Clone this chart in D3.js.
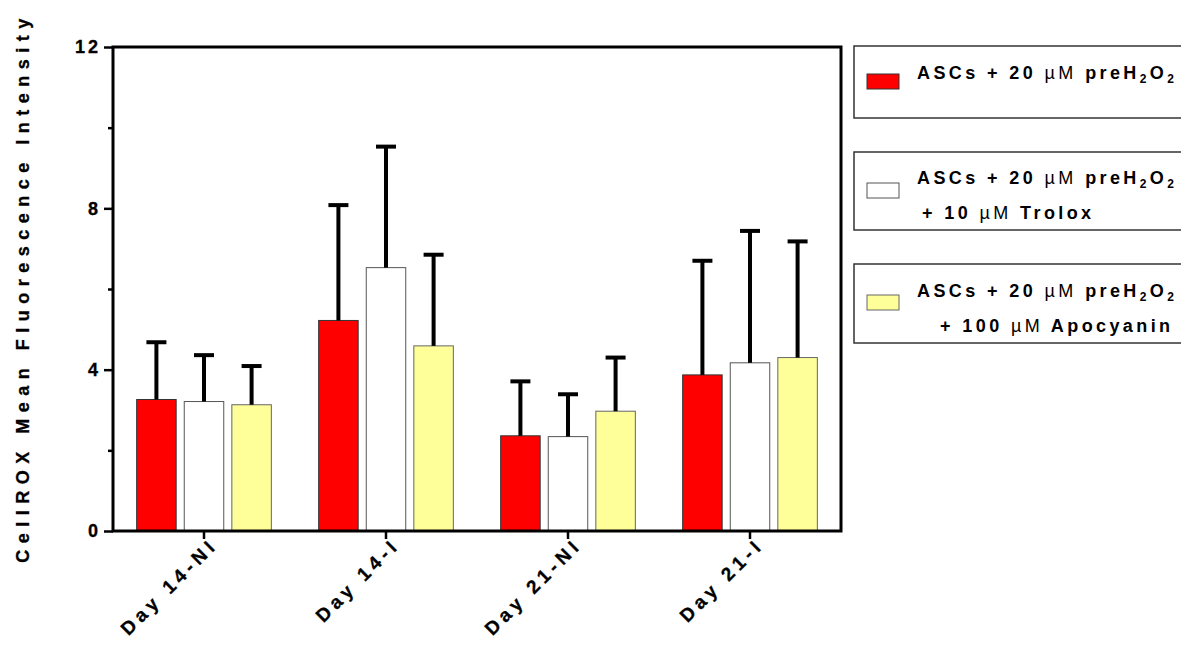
<!DOCTYPE html>
<html>
<head>
<meta charset="utf-8">
<script src="https://cdn.jsdelivr.net/npm/d3@7"></script>
<style>
  html, body { margin: 0; padding: 0; background: #fff; }
  svg { display: block; font-family: Arial, "Liberation Sans", sans-serif; }
</style>
</head>
<body>
<svg id="chart" width="1181" height="653"></svg>
<script>
const categories = ["Day 14-NI", "Day 14-I", "Day 21-NI", "Day 21-I"];
const seriesNames = ["pre", "trolox", "apocyanin"];
const meanPre = [3.26, 5.22, 2.36, 3.87];
const meanTrolox = [3.21, 6.53, 2.34, 4.17];
const meanApocyanin = [3.13, 4.59, 2.97, 4.30];
const sdPre = [1.42, 2.86, 1.35, 2.83];
const sdTrolox = [1.15, 3.00, 1.05, 3.27];
const sdApocyanin = [0.96, 2.26, 1.33, 2.88];
const yTicks = [0, 2, 4, 6, 8, 10, 12];
const yLabelTicks = [0, 4, 8, 12];
const yTitle = "CellROX Mean Fluorescence Intensity";

const colors = { pre: "#ff0000", trolox: "#ffffff", apocyanin: "#ffff99" };
const strokes = { pre: "#333", trolox: "#555", apocyanin: "#666" };

const means = { pre: meanPre, trolox: meanTrolox, apocyanin: meanApocyanin };
const sds = { pre: sdPre, trolox: sdTrolox, apocyanin: sdApocyanin };

const svg = d3.select("#chart");
const L = 113, R = 841, T = 47, B = 531;
const FONT = "Arial, 'Liberation Sans', sans-serif";

const y = d3.scaleLinear().domain([0, 12]).range([B, T]);
const x0 = d3.scaleBand().domain(categories).range([L, R]).paddingInner(0.26).paddingOuter(0.13);
const x1 = d3.scaleBand().domain(seriesNames).range([0, x0.bandwidth()]).paddingInner(0.17).paddingOuter(0);

const data = [];
categories.forEach((c, i) => {
  seriesNames.forEach(s => data.push({ cat: c, s, v: means[s][i], e: sds[s][i] }));
});

// bars
svg.append("g").selectAll("rect").data(data).join("rect")
  .attr("x", d => x0(d.cat) + x1(d.s))
  .attr("y", d => y(d.v))
  .attr("width", x1.bandwidth())
  .attr("height", d => B - y(d.v))
  .attr("fill", d => colors[d.s])
  .attr("stroke", d => strokes[d.s])
  .attr("stroke-width", 1);

// error bars (upper only)
const eg = svg.append("g").attr("stroke", "#000");
eg.selectAll("line.v").data(data).join("line").attr("class", "v")
  .attr("x1", d => x0(d.cat) + x1(d.s) + x1.bandwidth() / 2)
  .attr("x2", d => x0(d.cat) + x1(d.s) + x1.bandwidth() / 2)
  .attr("y1", d => y(d.v))
  .attr("y2", d => y(d.v + d.e))
  .attr("stroke-width", 4);
eg.selectAll("line.c").data(data).join("line").attr("class", "c")
  .attr("x1", d => x0(d.cat) + x1(d.s) + x1.bandwidth() / 2 - 10)
  .attr("x2", d => x0(d.cat) + x1(d.s) + x1.bandwidth() / 2 + 10)
  .attr("y1", d => y(d.v + d.e))
  .attr("y2", d => y(d.v + d.e))
  .attr("stroke-width", 4);

// frame
svg.append("rect").attr("x", L).attr("y", T).attr("width", R - L).attr("height", B - T)
  .attr("fill", "none").attr("stroke", "#000").attr("stroke-width", 3);

// y axis
const yAxis = d3.axisLeft(y).tickValues(yTicks).tickSize(9).tickPadding(3)
  .tickFormat(d => yLabelTicks.includes(d) ? String(d) : "");
const yg = svg.append("g").attr("transform", `translate(${L},0)`).call(yAxis);
yg.select(".domain").remove();
yg.selectAll(".tick line").attr("stroke", "#000").attr("stroke-width", 2.5)
  .attr("x2", d => yLabelTicks.includes(d) ? -9 : -5);
yg.selectAll(".tick text").attr("font-size", 18).attr("font-weight", "bold")
  .attr("fill", "#000").attr("letter-spacing", "3px").attr("font-family", FONT)
  .attr("stroke", "#000").attr("stroke-width", 0.3);

// x axis
const xAxis = d3.axisBottom(x0).tickSize(8).tickPadding(4);
const xg = svg.append("g").attr("transform", `translate(0,${B})`).call(xAxis);
xg.select(".domain").remove();
xg.selectAll(".tick line").attr("stroke", "#000").attr("stroke-width", 2.5);
xg.selectAll(".tick text")
  .attr("font-size", 19).attr("font-weight", "bold").attr("fill", "#000")
  .attr("letter-spacing", "4.6px")
  .attr("font-family", FONT)
  .attr("stroke", "#000").attr("stroke-width", 0.3)
  .attr("text-anchor", "end")
  .attr("dy", null)
  .attr("y", 0)
  .attr("transform", "translate(15,15) rotate(-45)");

// y title
svg.append("text")
  .attr("transform", `translate(29,${(7 + 568) / 2}) rotate(-90)`)
  .attr("text-anchor", "middle")
  .attr("font-size", 18).attr("font-weight", "bold")
  .attr("letter-spacing", "6.5px")
  .attr("font-family", FONT)
  .attr("stroke", "#000").attr("stroke-width", 0.3)
  .text(yTitle);

// legend
const legendBoxes = [
  { s: "pre", y0: 46, y1: 118, sw: 74, lines: [{ base: 79, x: 917 }] },
  { s: "trolox", y0: 152, y1: 230, sw: 183, lines: [{ base: 184, x: 917 }, { base: 219, x: 922, text: ["+ 10 ", "µM", " Trolox"] }] },
  { s: "apocyanin", y0: 264, y1: 343, sw: 295, lines: [{ base: 297, x: 917 }, { base: 332, x: 940, text: ["+ 100 ", "µM", " Apocyanin"] }] }
];
const lg = svg.append("g");
legendBoxes.forEach(b => {
  lg.append("rect").attr("x", 854).attr("y", b.y0).attr("width", 400).attr("height", b.y1 - b.y0)
    .attr("fill", "#fff").attr("stroke", "#333").attr("stroke-width", 1.5);
  lg.append("rect").attr("x", 867).attr("y", b.sw).attr("width", 32).attr("height", 15)
    .attr("fill", colors[b.s]).attr("stroke", strokes[b.s]).attr("stroke-width", 1);
  b.lines.forEach((ln, i) => {
    const t = lg.append("text").attr("x", ln.x).attr("y", ln.base)
      .attr("font-family", FONT)
      .attr("font-size", 18).attr("font-weight", "bold").attr("letter-spacing", "3.4px").attr("fill", "#000");
    if (i === 0) {
      t.append("tspan").text("ASCs + 20 ");
      t.append("tspan").attr("font-weight", "normal").text("µM");
      t.append("tspan").text(" preH");
      t.append("tspan").attr("font-size", 12).attr("dy", 4).text("2");
      t.append("tspan").attr("dy", -4).text("O");
      t.append("tspan").attr("font-size", 12).attr("dy", 4).text("2");
    } else {
      t.append("tspan").text(ln.text[0]);
      t.append("tspan").attr("font-weight", "normal").text(ln.text[1]);
      t.append("tspan").text(ln.text[2]);
    }
  });
});
</script>
</body>
</html>
